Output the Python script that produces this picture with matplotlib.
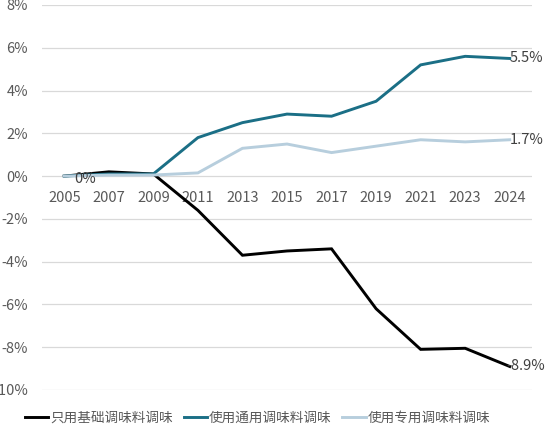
import matplotlib
matplotlib.use("Agg")
import matplotlib.pyplot as plt
from matplotlib.ticker import FuncFormatter

plt.rcParams['font.family'] = ['Noto Sans CJK SC', 'DejaVu Sans']

years = ["2005", "2007", "2009", "2011", "2013", "2015", "2017", "2019", "2021", "2023", "2024"]
basic = [0.0, 0.2, 0.1, -1.6, -3.7, -3.5, -3.4, -6.2, -8.1, -8.05, -8.9]
general = [0.0, 0.1, 0.1, 1.8, 2.5, 2.9, 2.8, 3.5, 5.2, 5.6, 5.5]
special = [0.0, 0.05, 0.05, 0.15, 1.3, 1.5, 1.1, 1.4, 1.7, 1.6, 1.7]
series_names = ["只用基础调味料调味", "使用通用调味料调味", "使用专用调味料调味"]
colors = ["#000000", "#1b6f86", "#b7cedd"]

fig = plt.figure(figsize=(5.45, 4.30), dpi=100)
ax = fig.add_axes([42/545, 1-390/430, (532-42)/545, (390-5)/430])

x = list(range(len(years)))
for vals, name, c in zip([basic, general, special], series_names, colors):
    ax.plot(x, vals, color=c, lw=2.1, label=name, solid_joinstyle='miter')

ax.set_xlim(-0.5, len(years)-0.5)
ax.set_ylim(-10, 8)
ax.set_yticks(range(-10, 9, 2))
ax.yaxis.set_major_formatter(FuncFormatter(lambda v, p: f"{int(v)}%"))
ax.grid(axis='y', color='#d9d9d9', lw=0.9)
ax.set_axisbelow(True)
for s in ['top', 'right', 'left']:
    ax.spines[s].set_visible(False)
ax.spines['bottom'].set_position(('data', 0))
ax.spines['bottom'].set_visible(False)
ax.set_xticks(x)
ax.set_xticklabels(years)
ax.tick_params(axis='both', length=0, labelsize=10.5, colors='#595959')
ax.tick_params(axis='x', pad=10.5)
ax.tick_params(axis='y', pad=10)

lab_kw = dict(fontsize=10.5, color='#404040', va='center', ha='left')
ax.annotate("0%", (x[0], basic[0]), xytext=(7, -2), textcoords='offset points', **lab_kw)
ax.annotate(f"{general[-1]}%", (x[-1], general[-1]), xytext=(0, 0), textcoords='offset points', **lab_kw)
ax.annotate(f"{special[-1]}%", (x[-1], special[-1]), xytext=(0, 0), textcoords='offset points', **lab_kw)
ax.annotate(f"{basic[-1]}%", (x[-1], basic[-1]), xytext=(-2.5, 0), textcoords='offset points', **lab_kw)

fig.legend(loc='center left', bbox_to_anchor=(25/545, 1-418/430), ncol=3, frameon=False,
           fontsize=9.8, handlelength=1.7, columnspacing=0.8, handletextpad=0.15,
           borderpad=0, borderaxespad=0, labelcolor='#595959')

fig.savefig("out.png", dpi=100)
